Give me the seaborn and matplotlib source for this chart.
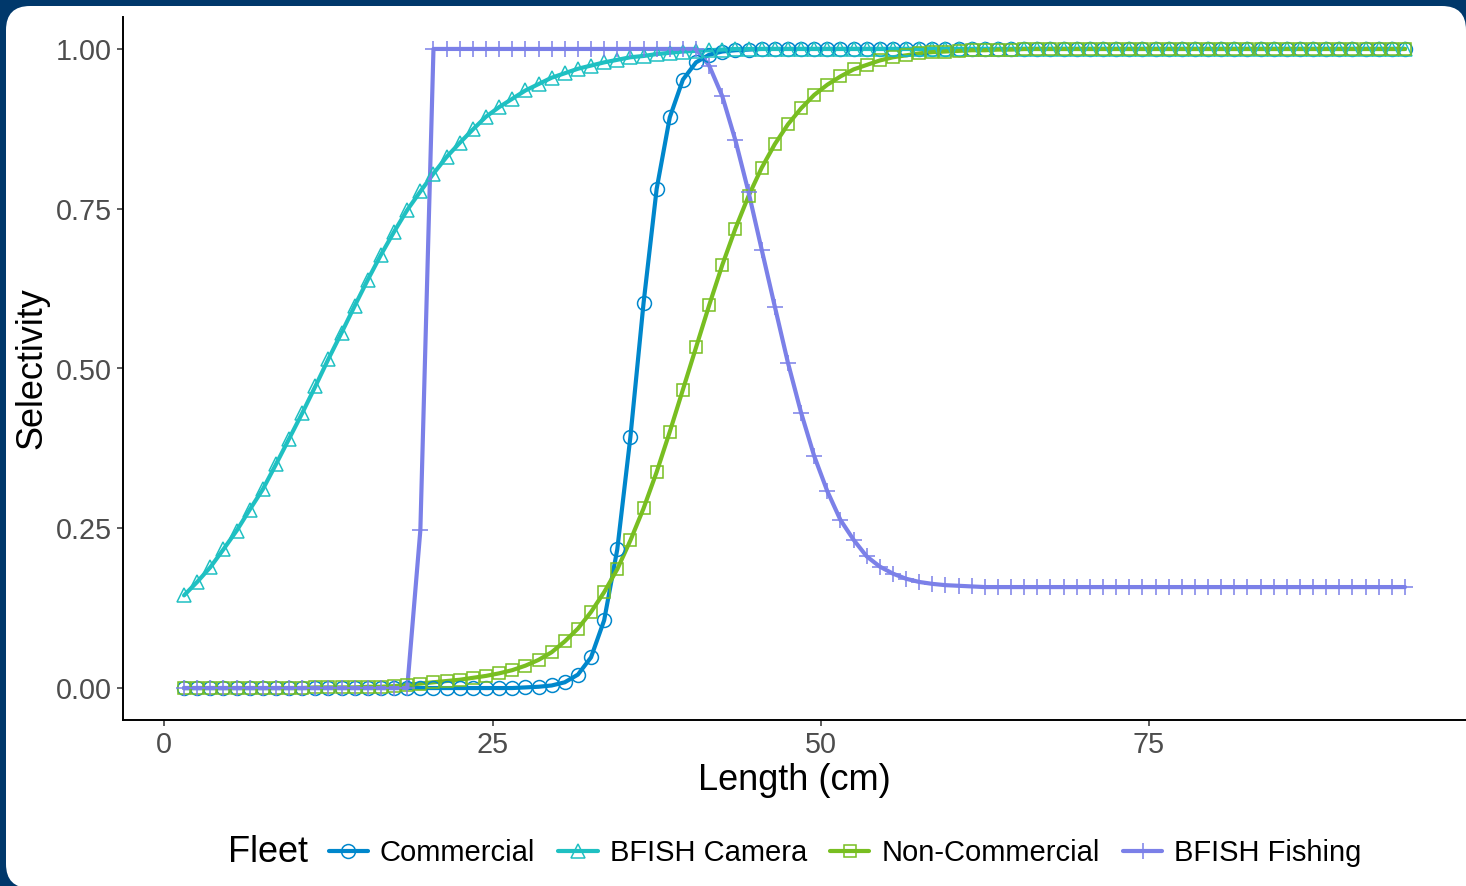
import pandas as pd
import matplotlib.pyplot as plt
import seaborn as sns
from matplotlib.lines import Line2D
from matplotlib.patches import FancyBboxPatch, Rectangle
from matplotlib.transforms import IdentityTransform

sns.set_style("white")
plt.rcParams['font.family'] = ['Liberation Sans', 'DejaVu Sans']
plt.rcParams['text.color'] = 'black'

# length bin midpoints (cm)
length_cm = [
    1.5, 2.5, 3.5, 4.5, 5.5, 6.5, 7.5, 8.5, 9.5, 10.5,
    11.5, 12.5, 13.5, 14.5, 15.5, 16.5, 17.5, 18.5, 19.5, 20.5,
    21.5, 22.5, 23.5, 24.5, 25.5, 26.5, 27.5, 28.5, 29.5, 30.5,
    31.5, 32.5, 33.5, 34.5, 35.5, 36.5, 37.5, 38.5, 39.5, 40.5,
    41.5, 42.5, 43.5, 44.5, 45.5, 46.5, 47.5, 48.5, 49.5, 50.5,
    51.5, 52.5, 53.5, 54.5, 55.5, 56.5, 57.5, 58.5, 59.5, 60.5,
    61.5, 62.5, 63.5, 64.5, 65.5, 66.5, 67.5, 68.5, 69.5, 70.5,
    71.5, 72.5, 73.5, 74.5, 75.5, 76.5, 77.5, 78.5, 79.5, 80.5,
    81.5, 82.5, 83.5, 84.5, 85.5, 86.5, 87.5, 88.5, 89.5, 90.5,
    91.5, 92.5, 93.5, 94.5,
]

commercial = [
    0, 0, 0, 0, 0, 0, 0, 0, 0, 0,
    0, 0, 0, 0, 0, 0, 0, 0, 0, 0,
    0, 0, 0, 0, 0, 0, 0.001, 0.002, 0.004, 0.009,
    0.021, 0.048, 0.106, 0.217, 0.393, 0.602, 0.781, 0.893, 0.952, 0.979,
    0.991, 0.996, 0.998, 0.999, 1, 1, 1, 1, 1, 1,
    1, 1, 1, 1, 1, 1, 1, 1, 1, 1,
    1, 1, 1, 1, 1, 1, 1, 1, 1, 1,
    1, 1, 1, 1, 1, 1, 1, 1, 1, 1,
    1, 1, 1, 1, 1, 1, 1, 1, 1, 1,
    1, 1, 1, 1,
]

bfish_camera = [
    0.145, 0.166, 0.189, 0.217, 0.246, 0.279, 0.311, 0.350, 0.390, 0.430,
    0.472, 0.515, 0.556, 0.598, 0.639, 0.678, 0.714, 0.748, 0.777, 0.805,
    0.831, 0.853, 0.874, 0.894, 0.909, 0.922, 0.935, 0.945, 0.955, 0.962,
    0.969, 0.974, 0.979, 0.983, 0.987, 0.989, 0.992, 0.994, 0.996, 0.997,
    0.998, 0.999, 1, 1, 1, 1, 1, 1, 1, 1,
    1, 1, 1, 1, 1, 1, 1, 1, 1, 1,
    1, 1, 1, 1, 1, 1, 1, 1, 1, 1,
    1, 1, 1, 1, 1, 1, 1, 1, 1, 1,
    1, 1, 1, 1, 1, 1, 1, 1, 1, 1,
    1, 1, 1, 1,
]

non_commercial = [
    0, 0, 0, 0, 0, 0, 0, 0, 0, 0,
    0.001, 0.001, 0.001, 0.001, 0.002, 0.002, 0.003, 0.005, 0.007, 0.009,
    0.011, 0.013, 0.016, 0.019, 0.023, 0.028, 0.035, 0.044, 0.056, 0.073,
    0.093, 0.119, 0.150, 0.186, 0.231, 0.281, 0.338, 0.401, 0.467, 0.533,
    0.599, 0.662, 0.719, 0.770, 0.814, 0.851, 0.882, 0.907, 0.928, 0.944,
    0.957, 0.968, 0.975, 0.982, 0.987, 0.990, 0.993, 0.995, 0.996, 0.997,
    0.998, 0.998, 0.999, 0.999, 1, 1, 1, 1, 1, 1,
    1, 1, 1, 1, 1, 1, 1, 1, 1, 1,
    1, 1, 1, 1, 1, 1, 1, 1, 1, 1,
    1, 1, 1, 1,
]

bfish_fishing = [
    0, 0, 0, 0, 0, 0, 0, 0, 0, 0,
    0, 0, 0, 0, 0, 0, 0, 0, 0.247, 1,
    1, 1, 1, 1, 1, 1, 1, 1, 1, 1,
    1, 1, 1, 1, 1, 1, 1, 1, 1, 1,
    0.974, 0.926, 0.857, 0.776, 0.686, 0.597, 0.509, 0.431, 0.363, 0.308,
    0.263, 0.232, 0.206, 0.190, 0.179, 0.171, 0.166, 0.163, 0.161, 0.160,
    0.159, 0.158, 0.158, 0.158, 0.158, 0.158, 0.158, 0.158, 0.158, 0.158,
    0.158, 0.158, 0.158, 0.158, 0.158, 0.158, 0.158, 0.158, 0.158, 0.158,
    0.158, 0.158, 0.158, 0.158, 0.158, 0.158, 0.158, 0.158, 0.158, 0.158,
    0.158, 0.158, 0.158, 0.158,
]

fleets = ["Commercial", "BFISH Camera", "Non-Commercial", "BFISH Fishing"]
fleet_colors = ["#0087CC", "#1FC0C2", "#78BE21", "#7B80E8"]
fleet_markers = ["o", "^", "s", "+"]
marker_sizes = [10, 10, 9, 12]

wide = pd.DataFrame({
    "length": length_cm,
    "Commercial": commercial,
    "BFISH Camera": bfish_camera,
    "Non-Commercial": non_commercial,
    "BFISH Fishing": bfish_fishing,
})
df = wide.melt(id_vars="length", var_name="fleet", value_name="selectivity")

W, H = 1466, 886
fig = plt.figure(figsize=(W / 100, H / 100), dpi=100)
fig.patch.set_facecolor("#00386B")

# white rounded card behind the plot (square at bottom right where it is cut off)
card = FancyBboxPatch((6 + 24, -2 + 24), W - 6 - 48, H - 4 - 48,
                      boxstyle="round,pad=24", transform=IdentityTransform(),
                      facecolor="white", edgecolor="none", zorder=-5)
fig.patches.append(card)
fig.patches.append(Rectangle((W - 60, -2), 62, 62, transform=IdentityTransform(),
                             facecolor="white", edgecolor="none", zorder=-5))

ax = fig.add_axes([123 / W, 1 - 720 / H, (W - 123) / W, (720 - 17) / H])
ax.set_facecolor("none")
ax.set_zorder(1)

# lines first, then points (ggplot layer order)
sns.lineplot(data=df, x="length", y="selectivity", hue="fleet",
             hue_order=fleets, palette=fleet_colors, linewidth=3.0,
             estimator=None, legend=False, ax=ax)
n_lines = len(ax.lines)
sns.lineplot(data=df, x="length", y="selectivity", hue="fleet",
             hue_order=fleets, palette=fleet_colors, marker="o",
             linestyle="none", markersize=10, markeredgewidth=1.1,
             estimator=None, legend=False, ax=ax)
for line, m, ms in zip(ax.lines[n_lines:], fleet_markers, marker_sizes):
    line.set_marker(m)
    line.set_markeredgecolor(line.get_color())
    line.set_markerfacecolor("none")
    line.set_markersize(ms)

ax.set_xlim(-3.15, 99.15)
ax.set_ylim(-0.05, 1.05)
ax.set_xticks([0, 25, 50, 75])
ax.set_yticks([0, 0.25, 0.5, 0.75, 1.0])
ax.set_yticklabels(["0.00", "0.25", "0.50", "0.75", "1.00"])
ax.tick_params(length=4.3, width=1.1, color="#333333", labelcolor="#4D4D4D",
               labelsize=20.7, pad=3.6, left=True, bottom=True)
for side in ["top", "right"]:
    ax.spines[side].set_visible(False)
for side in ["left", "bottom"]:
    ax.spines[side].set_color("black")
    ax.spines[side].set_linewidth(1.4)

ax.set_xlabel("Length (cm)", fontsize=26, color="black", labelpad=3)
ax.set_ylabel("Selectivity", fontsize=26, color="black", labelpad=5)

# legend along the bottom, title placed inline on the left
handles = [Line2D([], [], color=c, lw=3.0, marker=m, mfc="none", mec=c,
                  ms=s, mew=1.1)
           for c, m, s in zip(fleet_colors, fleet_markers, marker_sizes)]
fig.legend(handles, fleets, ncol=4, loc="center",
           bbox_to_anchor=(845 / W, 1 - 853 / H), frameon=False,
           fontsize=21, handlelength=1.35, handletextpad=0.4,
           columnspacing=0.8, borderpad=0, numpoints=1, labelcolor="black")
fig.text(228 / W, 1 - 853 / H, "Fleet", fontsize=26, ha="left", va="center",
         color="black")

fig.savefig("out.png", dpi=100, facecolor=fig.get_facecolor())
